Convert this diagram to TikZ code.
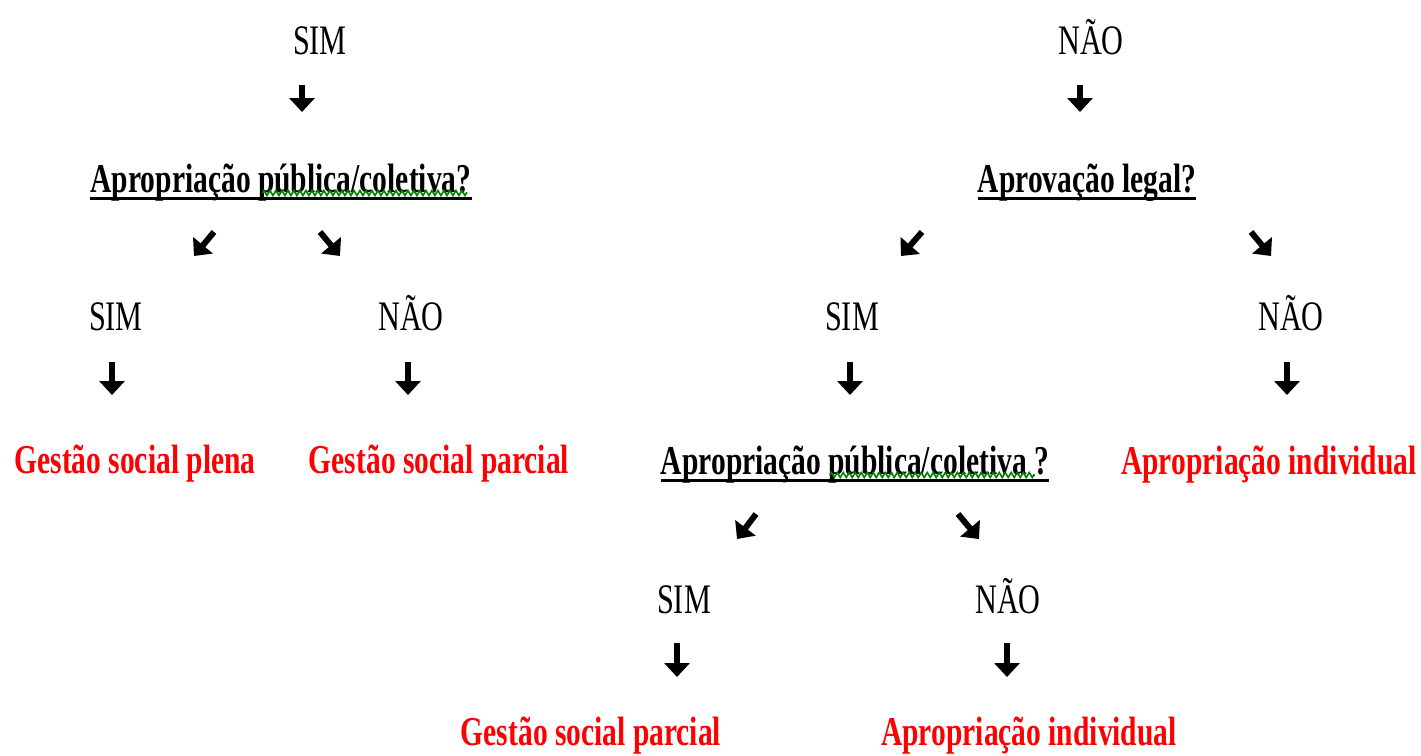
\documentclass[tikz,border=0pt]{standalone}
\usepackage{graphicx}
\usepackage{fontspec}
\setmainfont{Liberation Serif}
\usetikzlibrary{arrows.meta,decorations.pathmorphing,calc}
\newcommand\sq[1]{\scalebox{0.72}[1]{#1}}
\begin{document}
\begin{tikzpicture}[x=1pt,y=-1pt,
  ans/.style={font=\fontsize{42}{42}\selectfont, inner sep=0pt, anchor=base},
  quest/.style={font=\fontsize{41}{41}\selectfont\bfseries, inner sep=0pt, anchor=base},
  res/.style={quest, text=red},
  arr/.style={line width=6pt, -{Triangle[width=25pt,length=14pt]}},
  uline/.style={line width=3pt},
  spell/.style={green!50!black, line width=1.6pt, decorate,
    decoration={zigzag, segment length=6pt, amplitude=2.5pt}}]
\useasboundingbox (0,0) rectangle (1421,755);

% answers and questions
\node[ans]   (s1) at (320,54)  {\sq{SIM}};
\node[ans]   (n1) at (1091,54) {\sq{NÃO}};
\node[quest] (q1) at (281,192) {\sq{Apropriação pública/coletiva?}};
\node[quest] (q2) at (1087,192) {\sq{Aprovação legal?}};
\node[ans]   (s2) at (116,330) {\sq{SIM}};
\node[ans]   (n2) at (411,330) {\sq{NÃO}};
\node[ans]   (s3) at (852,330) {\sq{SIM}};
\node[ans]   (n3) at (1291,330) {\sq{NÃO}};
\node[res]   (r1) at (135,473) {\sq{Gestão social plena}};
\node[res]   (r2) at (439,473) {\sq{Gestão social parcial}};
\node[quest] (q3) at (855,474) {\sq{Apropriação pública/coletiva ?}};
\node[res]   (r3) at (1269,474) {\sq{Apropriação individual}};
\node[ans]   (s4) at (684,613) {\sq{SIM}};
\node[ans]   (n4) at (1008,613) {\sq{NÃO}};
\node[res]   (r4) at (591,745) {\sq{Gestão social parcial}};
\node[res]   (r5) at (1029,745) {\sq{Apropriação individual}};

% underlines and spell-check marks
\foreach \q in {q1,q2,q3}
  \draw[uline] ($(\q.base west)+(0,6.5)$) -- ($(\q.base east)+(0,6.5)$);
\draw[spell] ($(q1.base west)+(172,1)$) -- ($(q1.base west)+(377,1)$);
\draw[spell] ($(q3.base west)+(169,1)$) -- ($(q3.base west)+(374,1)$);

% arrow end points
\coordinate (a1s) at (302,85);   \coordinate (a1e) at (302,112);
\coordinate (a2s) at (1080,85);  \coordinate (a2e) at (1080,112);
\coordinate (a3s) at (112,362);  \coordinate (a3e) at (112,395);
\coordinate (a4s) at (408,362);  \coordinate (a4e) at (408,395);
\coordinate (a5s) at (850,362);  \coordinate (a5e) at (850,395);
\coordinate (a6s) at (1287,362); \coordinate (a6e) at (1287,395);
\coordinate (a7s) at (677,643);  \coordinate (a7e) at (677,677);
\coordinate (a8s) at (1007,643); \coordinate (a8e) at (1007,677);
\coordinate (d1s) at (214,232);  \coordinate (d1e) at (194,256);
\coordinate (d2s) at (320,232);  \coordinate (d2e) at (340,256);
\coordinate (d3s) at (922,232);  \coordinate (d3e) at (901,256);
\coordinate (d4s) at (1251,232); \coordinate (d4e) at (1271,256);
\coordinate (d5s) at (756,514);  \coordinate (d5e) at (737,539);
\coordinate (d6s) at (958,514);  \coordinate (d6e) at (979,539);

\foreach \a in {a1,a2,a3,a4,a5,a6,a7,a8,d1,d2,d3,d4,d5,d6}
  \draw[arr] (\a s) -- (\a e);
\end{tikzpicture}
\end{document}
